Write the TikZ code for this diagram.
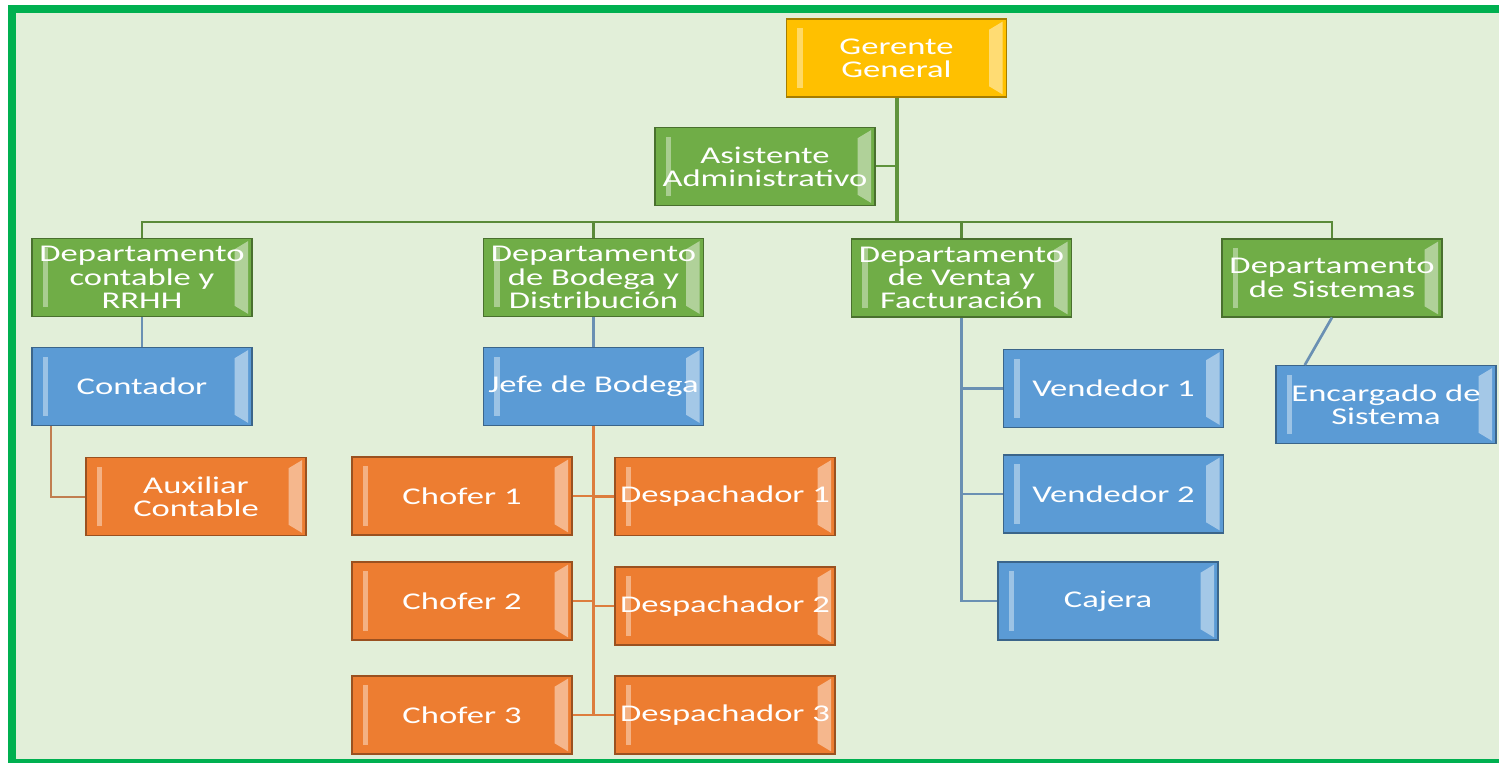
\documentclass[tikz,border=0pt]{standalone}
\usepackage{fontspec}
\setmainfont{Carlito}[FakeStretch=1.44]

\definecolor{fondo}{HTML}{E2EFD9}
\definecolor{marco}{HTML}{00B050}
\definecolor{oro}{HTML}{FFC000}
\definecolor{verde}{HTML}{70AD47}
\definecolor{azul}{HTML}{5B9BD5}
\definecolor{naranja}{HTML}{ED7D31}

\tikzset{
  caja/.style={draw=#1!65!black, line width=0.8pt, fill=#1, text=white,
    minimum width=165pt, minimum height=58.5pt, inner sep=0pt, align=center,
    font=\fontsize{18}{17.5}\selectfont,
    path picture={
      \fill[white,opacity=.4] ([xshift=8pt,yshift=7pt]path picture bounding box.south west) rectangle ([xshift=12pt,yshift=-7pt]path picture bounding box.north west);
      \fill[white,opacity=.45] ([xshift=-13pt,yshift=8pt]path picture bounding box.south east) -- ([xshift=-3pt,yshift=2pt]path picture bounding box.south east) -- ([xshift=-3pt,yshift=-2pt]path picture bounding box.north east) -- ([xshift=-13pt,yshift=-8pt]path picture bounding box.north east) -- cycle;
    }},
  rama/.style={draw=#1, line width=2pt}
}

\begin{document}
\begin{tikzpicture}[x=0.75pt,y=0.75pt,yscale=-1,xscale=1]

\useasboundingbox (0,0) rectangle (1499,763);
\fill[fondo] (8,5) rectangle (1499,763);
\fill[marco] (8,5) rectangle (1499,13);
\fill[marco] (8,5) rectangle (16,763);
\fill[marco] (8,759) rectangle (1499,763);

\node[caja=oro] (gerente) at (896.5,58) {Gerente\\General};
\node[caja=verde] (asistente) at (765,166.5) {Asistente\\Administrativo};

\node[caja=verde] (contable) at (142,277.5) {Departamento\\contable y\\RRHH};
\node[caja=verde] (bodega) at (593.5,277.5) {Departamento\\de Bodega y\\Distribución};
\node[caja=verde] (venta) at (961.5,278) {Departamento\\de Venta y\\Facturación};
\node[caja=verde] (sistemas) at (1332,278) {Departamento\\de Sistemas};

\node[caja=azul] (contador) at (142,386.5) {Contador};
\node[caja=naranja] (auxiliar) at (196,496.5) {Auxiliar\\Contable};

\node[caja=azul] (jefe) at (593.5,386.5) {Jefe de Bodega};
\node[caja=naranja] (chofer1) at (462,496) {Chofer 1};
\node[caja=naranja] (chofer2) at (462,601) {Chofer 2};
\node[caja=naranja] (chofer3) at (462,715) {Chofer 3};
\node[caja=naranja] (desp1) at (725,496.5) {Despachador 1};
\node[caja=naranja] (desp2) at (725,606) {Despachador 2};
\node[caja=naranja] (desp3) at (725,715) {Despachador 3};

\node[caja=azul] (vend1) at (1113.5,388.5) {Vendedor 1};
\node[caja=azul] (vend2) at (1113.5,494) {Vendedor 2};
\node[caja=azul] (cajera) at (1108,601) {Cajera};

\node[caja=azul] (encargado) at (1386,404.5) {Encargado de\\Sistema};

\coordinate (bus) at (896.5,222);
\coordinate (cbend) at ([xshift=15pt]contador.south west);
\coordinate (encarriba) at ([xshift=22pt]encargado.north west);

\draw[rama=verde!85!black, line width=3pt] (gerente) -- (bus);
\draw[rama=verde!85!black, line width=1.5pt] (asistente.east) -- (asistente.east -| bus);
\foreach \d in {contable,bodega,venta,sistemas}
  \draw[rama=verde!80!black] (\d.north) |- (bus);

\draw[rama=azul!60!gray] (contable) -- (contador);
\draw[rama=naranja!60!gray, line width=1.5pt] (cbend) |- (auxiliar.west);

\draw[rama=azul!60!gray] (bodega) -- (jefe);
\draw[rama=naranja!85!gray] (jefe.south) -- (jefe.south |- chofer3);
\foreach \n in {chofer1,chofer2,chofer3,desp1,desp2,desp3}
  \draw[rama=naranja!85!gray] (\n) -| (jefe.south);

\foreach \n in {vend1,vend2,cajera}
  \draw[rama=azul!60!gray] (\n) -| (venta.south);

\draw[rama=azul!60!gray] (sistemas.south) -- (encarriba);

\end{tikzpicture}
\end{document}
